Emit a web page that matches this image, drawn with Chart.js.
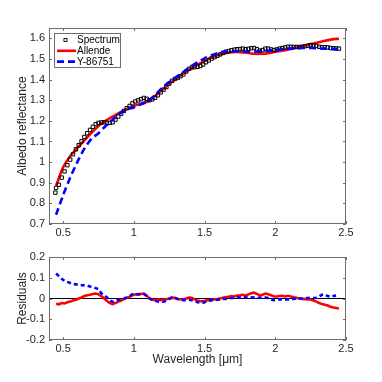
<!DOCTYPE html>
<html>
<head>
<meta charset="utf-8">
<script src="https://cdn.jsdelivr.net/npm/chart.js@4.4.1/dist/chart.umd.min.js"></script>
<style>
  html, body { margin: 0; padding: 0; background: #fff; }
  #wrap { position: relative; width: 382px; height: 382px; }
  #top { position: absolute; left: 0; top: 0; }
  #bottom { position: absolute; left: 0; top: 240px; }
</style>
</head>
<body>
<div id="wrap">
  <canvas id="top" width="382" height="240"></canvas>
  <canvas id="bottom" width="382" height="142"></canvas>
</div>
<script>
// Measured spectrum (black squares)
const specWl = [0.445,
  0.45,0.47,0.49,0.51,0.53,0.55,0.57,0.59,0.61,0.63,
  0.65,0.67,0.69,0.71,0.73,0.75,0.77,0.79,0.81,0.83,
  0.85,0.87,0.89,0.91,0.93,0.95,0.97,0.99,1.01,1.03,
  1.05,1.07,1.09,1.11,1.13,1.15,1.17,1.19,1.21,1.23,
  1.25,1.27,1.29,1.31,1.33,1.35,1.37,1.39,1.41,1.43,
  1.45,1.47,1.49,1.51,1.53,1.55,1.57,1.59,1.61,1.63,
  1.65,1.67,1.69,1.71,1.73,1.75,1.77,1.79,1.81,1.83,
  1.85,1.87,1.89,1.91,1.93,1.95,1.97,1.99,2.01,2.03,
  2.05,2.07,2.09,2.11,2.13,2.15,2.17,2.19,2.21,2.23,
  2.25,2.27,2.29,2.31,2.33,2.35,2.37,2.39,2.41,2.43,
  2.45];
const specVal = [0.852,
  0.875,0.89,0.925,0.955,0.985,1.012,1.038,1.062,1.082,1.101,
  1.122,1.14,1.156,1.171,1.184,1.19,1.192,1.193,1.19,1.19,
  1.193,1.206,1.221,1.234,1.248,1.261,1.272,1.285,1.294,1.299,
  1.305,1.311,1.307,1.30,1.304,1.312,1.324,1.338,1.351,1.364,
  1.38,1.394,1.403,1.408,1.416,1.425,1.439,1.452,1.459,1.46,
  1.462,1.466,1.473,1.484,1.493,1.502,1.509,1.515,1.522,1.529,
  1.535,1.538,1.542,1.545,1.547,1.548,1.55,1.547,1.549,1.552,
  1.553,1.547,1.54,1.543,1.55,1.55,1.546,1.543,1.546,1.55,
  1.553,1.556,1.559,1.559,1.558,1.558,1.558,1.559,1.562,1.564,
  1.567,1.565,1.563,1.559,1.557,1.557,1.556,1.553,1.552,1.551,
  1.55];

// Allende model (red)
const allendeWl = [0.45,0.5,0.55,0.6,0.65,0.7,0.75,0.8,0.85,0.9,
  0.95,1.0,1.05,1.1,1.15,1.2,1.25,1.3,1.35,1.4,
  1.45,1.5,1.55,1.6,1.65,1.7,1.75,1.8,1.85,1.9,
  1.95,2.0,2.05,2.1,2.15,2.2,2.25,2.3,2.35,2.4,2.45];
const allendeVal = [0.885,0.975,1.03,1.068,1.105,1.142,1.175,1.2,1.22,1.24,
  1.258,1.272,1.283,1.295,1.32,1.35,1.38,1.405,1.43,1.452,
  1.472,1.49,1.508,1.52,1.528,1.533,1.533,1.53,1.525,1.525,
  1.528,1.535,1.54,1.547,1.555,1.563,1.572,1.58,1.588,1.595,1.598];

// Y-86751 model (blue dashed)
const yamatoWl = [0.45,0.5,0.55,0.6,0.65,0.7,0.75,0.8,0.85,0.9,
  0.95,1.0,1.05,1.1,1.15,1.2,1.25,1.3,1.35,1.4,
  1.45,1.5,1.55,1.6,1.65,1.7,1.75,1.8,1.85,1.9,
  1.95,2.0,2.05,2.1,2.15,2.2,2.25,2.3,2.35,2.4,2.44];
const yamatoVal = [0.745,0.84,0.925,1.0,1.065,1.112,1.14,1.175,1.205,1.235,
  1.255,1.265,1.28,1.295,1.325,1.36,1.388,1.412,1.437,1.462,
  1.484,1.503,1.518,1.53,1.536,1.537,1.537,1.535,1.535,1.537,
  1.54,1.543,1.547,1.55,1.552,1.553,1.553,1.552,1.55,1.549,1.548];

// Residuals (lower panel)
const residWl = specWl.slice(1);
const residAllende = [
  -0.025,-0.028,-0.022,-0.024,-0.018,-0.015,-0.01,-0.006,0,0.005,
  0.012,0.016,0.018,0.022,0.024,0.02,0.012,0,-0.012,-0.022,
  -0.027,-0.022,-0.015,-0.01,-0.003,0.003,0.008,0.015,0.02,0.02,
  0.022,0.024,0.015,0,-0.006,-0.008,-0.004,-0.008,-0.005,-0.004,
  0,0.004,0.003,-0.002,-0.004,-0.005,0,0.004,0.003,-0.004,
  -0.01,-0.013,-0.013,-0.01,-0.008,-0.006,-0.004,-0.003,0,0.004,
  0.007,0.008,0.012,0.01,0.014,0.015,0.018,0.014,0.02,0.025,
  0.028,0.022,0.015,0.018,0.024,0.02,0.016,0.01,0.01,0.012,
  0.013,0.01,0.013,0.01,0.006,0.003,0,-0.002,-0.003,-0.004,
  -0.005,-0.01,-0.015,-0.022,-0.027,-0.03,-0.034,-0.04,-0.043,-0.046,
  -0.048];
const residYamato = [
  0.12,0.108,0.095,0.085,0.08,0.075,0.07,0.068,0.065,0.064,
  0.064,0.062,0.058,0.055,0.05,0.045,0.025,0.015,0.005,-0.01,
  -0.016,-0.012,-0.006,-0.004,0,0.005,0.012,0.02,0.022,0.02,
  0.022,0.022,0.012,0,-0.006,-0.01,-0.014,-0.016,-0.016,-0.01,
  -0.002,0.004,0.003,-0.002,-0.006,-0.008,-0.008,-0.006,-0.008,-0.012,
  -0.018,-0.02,-0.02,-0.016,-0.012,-0.008,-0.008,-0.006,-0.004,-0.002,
  -0.002,0,0.002,0.004,0.005,0.006,0.008,0.005,0.004,0.006,
  0.005,0.002,0.004,0.006,0.005,0.002,-0.004,-0.008,-0.006,-0.004,
  -0.004,-0.005,-0.005,-0.003,-0.002,0,0,0,0,0.002,
  0.004,0.002,0.004,0.01,0.018,0.02,0.012,0.008,0.012,0.014];

// Axis limits and tick labels
const xMin = 0.4, xMax = 2.5;
const xTicks = [0.5, 1, 1.5, 2, 2.5];
const yTicksTop = [0.7, 0.8, 0.9, 1, 1.1, 1.2, 1.3, 1.4, 1.5, 1.6];
const yTicksBottom = [-0.2, -0.1, 0, 0.1, 0.2];

const FONT = '"Liberation Sans", Arial, Helvetica, sans-serif';
const AXIS_COLOR = '#6e6e6e';
const TEXT_COLOR = '#262626';

Chart.defaults.font.family = FONT;
Chart.defaults.color = TEXT_COLOR;

const toXY = (xs, ys) => ys.map((y, i) => ({ x: xs[i], y: y }));
const fmt = v => String(parseFloat(Number(v).toFixed(2)));

// MATLAB-like box with inward ticks on all four sides
const boxPlugin = {
  id: 'matlabBox',
  afterDatasetsDraw(chart) {
    const { ctx, chartArea: a, scales } = chart;
    const len = 3;
    ctx.save();
    ctx.strokeStyle = AXIS_COLOR;
    ctx.lineWidth = 1;
    ctx.strokeRect(a.left + 0.5, a.top + 0.5, a.right - a.left - 1, a.bottom - a.top - 1);
    ctx.beginPath();
    scales.x.ticks.forEach(t => {
      const px = Math.round(scales.x.getPixelForValue(t.value)) + 0.5;
      ctx.moveTo(px, a.bottom); ctx.lineTo(px, a.bottom - len);
      ctx.moveTo(px, a.top); ctx.lineTo(px, a.top + len);
    });
    scales.y.ticks.forEach(t => {
      const py = Math.round(scales.y.getPixelForValue(t.value)) + 0.5;
      ctx.moveTo(a.left, py); ctx.lineTo(a.left + len, py);
      ctx.moveTo(a.right, py); ctx.lineTo(a.right - len, py);
    });
    ctx.stroke();
    ctx.restore();
  }
};

// boxed legend in the upper-left corner of the top axes
const legendPlugin = {
  id: 'boxLegend',
  afterDraw(chart) {
    const { ctx, chartArea: a } = chart;
    const x = a.left + 5, y = a.top + 5, w = 66, h = 34;
    ctx.save();
    ctx.fillStyle = '#fff';
    ctx.fillRect(x, y, w, h);
    ctx.strokeStyle = AXIS_COLOR;
    ctx.lineWidth = 1;
    ctx.strokeRect(x + 0.5, y + 0.5, w, h);
    ctx.font = '10px ' + FONT;
    ctx.textBaseline = 'middle';
    chart.data.datasets.forEach((ds, i) => {
      const ry = y + 7 + i * 10.8;
      if (ds.showLine === false) {
        ctx.strokeStyle = '#000';
        ctx.lineWidth = 0.9;
        ctx.strokeRect(x + 10, ry - 1.5, 3, 3);
      } else {
        ctx.strokeStyle = ds.borderColor;
        ctx.lineWidth = ds.borderWidth;
        ctx.setLineDash(ds.borderDash || []);
        ctx.beginPath();
        ctx.moveTo(x + 3, ry);
        ctx.lineTo(x + 22, ry);
        ctx.stroke();
        ctx.setLineDash([]);
      }
      ctx.fillStyle = '#000';
      ctx.fillText(ds.label, x + 23, ry + 0.5);
    });
    ctx.restore();
  }
};

function xScale(height, tickPad, withTitle) {
  return {
    type: 'linear',
    min: xMin,
    max: xMax,
    afterBuildTicks: s => { s.ticks = xTicks.map(v => ({ value: v })); },
    afterFit: s => { s.height = height; },
    ticks: { callback: fmt, padding: tickPad, font: { size: 11 }, color: TEXT_COLOR, maxRotation: 0, autoSkip: false },
    grid: { display: false, drawTicks: false },
    border: { display: false },
    title: {
      display: withTitle,
      text: 'Wavelength [μm]',
      font: { size: 12 },
      color: TEXT_COLOR,
      padding: { top: 0, bottom: 3 }
    }
  };
}

function yScale(min, max, tickList, label) {
  return {
    type: 'linear',
    min: min,
    max: max,
    afterBuildTicks: s => { s.ticks = tickList.map(v => ({ value: v })); },
    afterFit: s => { s.width = 49; },
    ticks: { callback: fmt, padding: 4, font: { size: 11 }, color: TEXT_COLOR, autoSkip: false },
    grid: { display: false, drawTicks: false },
    border: { display: false },
    title: {
      display: true,
      text: label,
      font: { size: 12 },
      color: TEXT_COLOR,
      padding: { top: 15, bottom: 4 }
    }
  };
}

const common = {
  responsive: false,
  animation: false,
  plugins: { legend: { display: false }, tooltip: { enabled: false } },
  elements: { point: { radius: 0 } }
};

// Top panel: albedo reflectance
new Chart(document.getElementById('top').getContext('2d'), {
  type: 'scatter',
  data: {
    datasets: [
      {
        label: 'Spectrum',
        data: toXY(specWl, specVal),
        showLine: false,
        pointStyle: 'rect',
        pointRadius: 2.4,
        pointBorderWidth: 1,
        pointBorderColor: '#000',
        pointBackgroundColor: 'rgba(0,0,0,0)',
        order: 1
      },
      {
        label: 'Allende',
        data: toXY(allendeWl, allendeVal),
        showLine: true,
        borderColor: '#ff0000',
        borderWidth: 2.6,
        tension: 0.3,
        pointRadius: 0,
        order: 2
      },
      {
        label: 'Y-86751',
        data: toXY(yamatoWl, yamatoVal),
        showLine: true,
        borderColor: '#0000ff',
        borderWidth: 2.6,
        borderDash: [7, 4],
        tension: 0.3,
        pointRadius: 0,
        order: 0
      }
    ]
  },
  options: {
    ...common,
    layout: { padding: { left: 0, right: 36, top: 28, bottom: 0 } },
    scales: {
      x: xScale(16, 2, false),
      y: yScale(0.7, 1.65, yTicksTop, 'Albedo reflectance')
    }
  },
  plugins: [boxPlugin, legendPlugin]
});

// Bottom panel: residuals
new Chart(document.getElementById('bottom').getContext('2d'), {
  type: 'scatter',
  data: {
    datasets: [
      {
        label: 'Allende',
        data: toXY(residWl, residAllende),
        showLine: true,
        borderColor: '#ff0000',
        borderWidth: 2.6,
        pointRadius: 0,
        order: 1
      },
      {
        label: 'Y-86751',
        data: toXY(residWl, residYamato),
        showLine: true,
        borderColor: '#0000ff',
        borderWidth: 2.6,
        borderDash: [4, 3],
        pointRadius: 0,
        order: 0
      },
      {
        label: 'zero',
        data: [{ x: xMin, y: 0 }, { x: xMax, y: 0 }],
        showLine: true,
        borderColor: '#000',
        borderWidth: 1.2,
        pointRadius: 0,
        order: 2
      }
    ]
  },
  options: {
    ...common,
    layout: { padding: { left: 0, right: 36, top: 17, bottom: 12 } },
    scales: {
      x: xScale(30, 2, true),
      y: yScale(-0.2, 0.2, yTicksBottom, 'Residuals')
    }
  },
  plugins: [boxPlugin]
});
</script>
</body>
</html>
